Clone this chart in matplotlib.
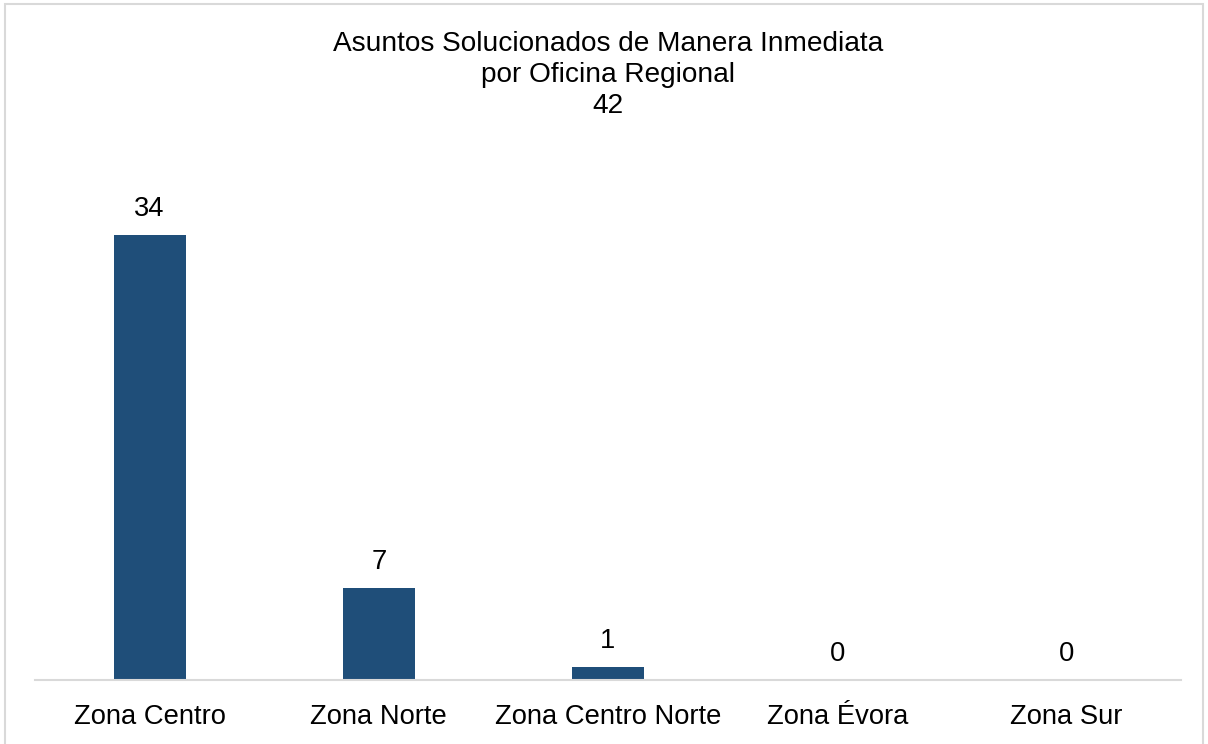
import matplotlib
matplotlib.use("Agg")
import matplotlib.pyplot as plt
from matplotlib.patches import Rectangle

# data
zonas = ["Zona Centro", "Zona Norte", "Zona Centro Norte", "Zona Évora", "Zona Sur"]
asuntos = [34, 7, 1, 0, 0]
total = 42

plt.rcParams['font.family'] = ['Liberation Sans', 'DejaVu Sans']

fig = plt.figure(figsize=(12.08, 7.44), dpi=100)
ax = fig.add_axes([35 / 1208, 1 - 680 / 744, 1146 / 1208, 523.6 / 744])

x = range(len(zonas))
bars = ax.bar(x, asuntos, width=0.314, color='#1F4E79')

for xi, v in zip(x, asuntos):
    ax.text(xi, v + 1.0, str(v), ha='center', va='bottom', fontsize=19.7)

ax.set_xlim(-0.5, len(zonas) - 0.5)
ax.set_ylim(0, 40)
ax.set_xticks(list(x))
ax.set_xticklabels(zonas, fontsize=19.7)
ax.tick_params(axis='x', length=0, pad=17.5)
ax.set_yticks([])
for side in ['top', 'right', 'left']:
    ax.spines[side].set_visible(False)
ax.spines['bottom'].set_color('#D9D9D9')
ax.spines['bottom'].set_linewidth(1.5)

fig.text(608 / 1208, 1 - 75 / 744,
         "Asuntos Solucionados de Manera Inmediata\npor Oficina Regional\n" + str(total),
         ha='center', va='center', fontsize=20.2, linespacing=1.27)

# chart border
fig.patches.append(Rectangle((5 / 1208, -0.01), 1198 / 1208, 1 - 4 / 744 + 0.01,
                             transform=fig.transFigure, fill=False,
                             edgecolor='#D9D9D9', linewidth=1.5))

fig.savefig('out.png', dpi=100)
